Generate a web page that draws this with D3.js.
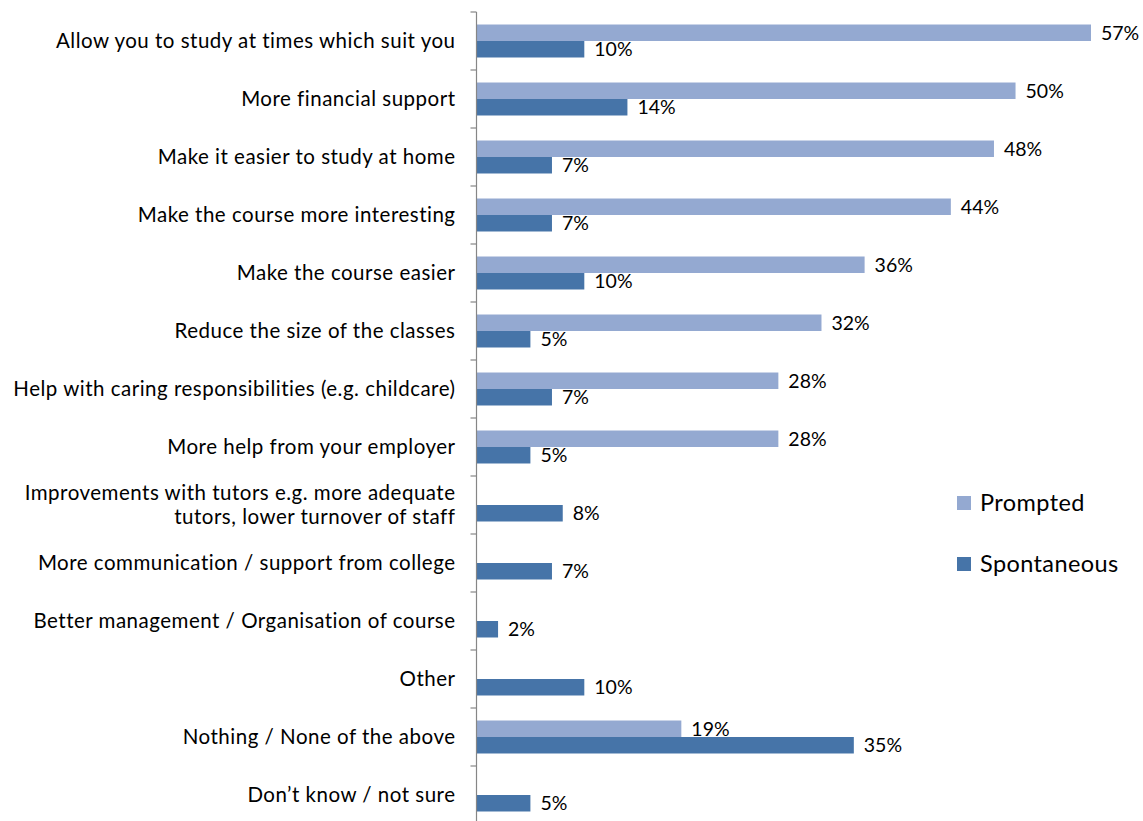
<!DOCTYPE html>
<html>
<head>
<meta charset="utf-8">
<script src="https://cdn.jsdelivr.net/npm/d3@7"></script>
<style>
  html, body { margin: 0; padding: 0; background: #fff; }
  svg { display: block; }
  text { font-family: Lato, "Liberation Sans", sans-serif; fill: #000; }
</style>
</head>
<body>
<svg id="chart" width="1143" height="821"></svg>
<script>
// Survey answers: what would make studying easier
const categories = [
  "Allow you to study at times which suit you",
  "More financial support",
  "Make it easier to study at home",
  "Make the course more interesting",
  "Make the course easier",
  "Reduce the size of the classes",
  "Help with caring responsibilities (e.g. childcare)",
  "More help from your employer",
  "Improvements with tutors e.g. more adequate|tutors, lower turnover of staff",
  "More communication / support from college",
  "Better management / Organisation of course",
  "Other",
  "Nothing / None of the above",
  "Don\u2019t know / not sure"
];
const seriesNames = ["Prompted", "Spontaneous"];
const prompted    = [57, 50, 48, 44, 36, 32, 28, 28, null, null, null, null, 19, null];
const spontaneous = [10, 14, 7, 7, 10, 5, 7, 5, 8, 7, 2, 10, 35, 5];
const colors = ["#94a9d1", "#4674a8"];

const svg = d3.select("#chart");
const plotLeft = 476.5;

const y0 = d3.scaleBand().domain(categories).range([12, 824]);
const y1 = d3.scaleBand().domain(seriesNames).range([0, y0.bandwidth()]).paddingOuter(0.758);
const x = d3.scaleLinear().domain([0, 57]).range([plotLeft, 1091]);
const color = d3.scaleOrdinal().domain(seriesNames).range(colors);

const seriesData = [
  { name: "Prompted", values: prompted },
  { name: "Spontaneous", values: spontaneous }
];

// Each series is drawn as a layer (bars then its labels), so later bars sit on top
seriesData.forEach(s => {
  const pts = categories
    .map((c, i) => ({ cat: c, series: s.name, value: s.values[i] }))
    .filter(d => d.value != null);
  const layer = svg.append("g");
  layer.selectAll("rect")
    .data(pts).join("rect")
    .attr("x", x(0))
    .attr("y", d => y0(d.cat) + y1(d.series))
    .attr("width", d => x(d.value) - x(0))
    .attr("height", y1.bandwidth())
    .attr("fill", color(s.name));
  layer.selectAll("text")
    .data(pts).join("text")
    .attr("x", d => x(d.value) + 10)
    .attr("y", d => y0(d.cat) + y1(d.series) + y1.bandwidth() / 2)
    .attr("dy", "0.36em")
    .attr("font-size", 19.5)
    .text(d => d.value + "%");
});

// Category labels (multi-line labels split on "|")
const labels = svg.append("g").selectAll("text")
  .data(categories).join("text")
  .attr("text-anchor", "end")
  .attr("font-size", 20.5)
  .attr("letter-spacing", 0.5)
  .attr("x", plotLeft - 21)
  .attr("y", d => y0(d) + y0.bandwidth() / 2);
labels.each(function (d) {
  const lines = d.split("|");
  const t = d3.select(this);
  lines.forEach((ln, k) => {
    t.append("tspan")
      .attr("x", plotLeft - 21)
      .attr("dy", k === 0 ? `${0.36 - (lines.length - 1) * 0.58}em` : "1.16em")
      .text(ln);
  });
});

// Vertical axis with ticks on category boundaries
const axis = svg.append("g").attr("stroke", "#868686").attr("stroke-width", 1.2);
axis.append("line")
  .attr("x1", plotLeft).attr("x2", plotLeft)
  .attr("y1", y0.range()[0]).attr("y2", y0.range()[1]);
const boundaries = categories.map(c => y0(c)).concat([y0.range()[1]]);
axis.selectAll("line.tick")
  .data(boundaries).join("line")
  .attr("class", "tick")
  .attr("x1", plotLeft - 6).attr("x2", plotLeft)
  .attr("y1", d => d).attr("y2", d => d);

// Legend
const legendY = d3.scaleBand().domain(seriesNames).range([472, 594]);
const legend = svg.append("g").selectAll("g")
  .data(seriesNames).join("g")
  .attr("transform", d => `translate(957,${legendY(d) + legendY.bandwidth() / 2})`);
legend.append("rect")
  .attr("x", 0).attr("y", -6.5)
  .attr("width", 14).attr("height", 14)
  .attr("fill", d => color(d));
legend.append("text")
  .attr("x", 23).attr("dy", "0.36em")
  .attr("font-size", 23.5)
  .attr("letter-spacing", 0.4)
  .text(d => d);
</script>
</body>
</html>
